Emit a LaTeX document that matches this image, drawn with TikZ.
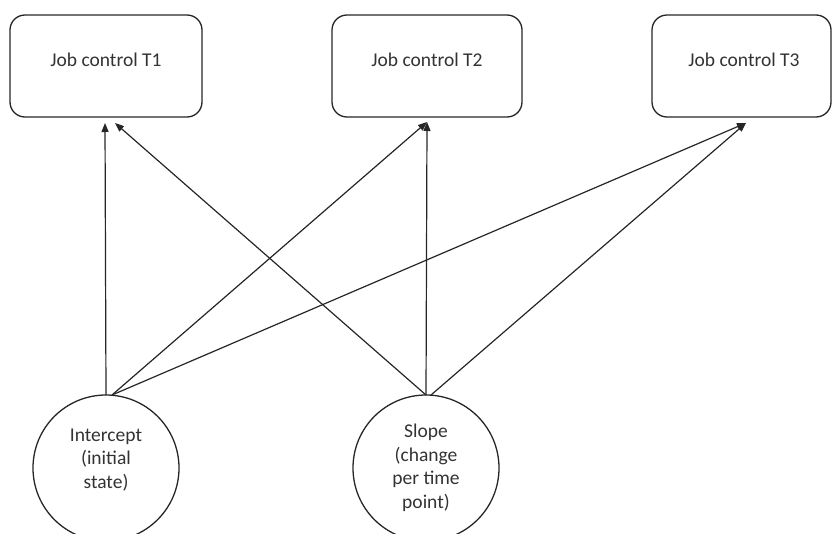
\documentclass[tikz,border=0pt]{standalone}
\usepackage{fontspec}
\setmainfont{Carlito}
\usetikzlibrary{arrows.meta}
\begin{document}
\begin{tikzpicture}[x=1pt,y=-1pt,
  jbox/.style={draw=black!85,line width=1.3pt,rounded corners=15pt,minimum height=102pt,inner sep=0pt},
  latent/.style={draw=black!85,line width=1.3pt,circle,minimum size=146pt,inner sep=0pt},
  lbl/.style={font=\fontsize{19.5}{23.5}\selectfont,text=black!80,align=center},
  conn/.style={draw=black!85,line width=1.2pt,-{Triangle[length=9pt,width=7pt]}}
]
\useasboundingbox (0,0) rectangle (832,533);
\node[jbox,minimum width=192pt] (t1) at (106,66) {};
\node[lbl] (t1l) at (106,60) {Job control T1};
\node[jbox,minimum width=190pt] (t2) at (427,66) {};
\node[lbl] (t2l) at (427,60) {Job control T2};
\node[jbox,minimum width=179pt] (t3) at (741.5,66) {};
\node[lbl] (t3l) at (744,60) {Job control T3};
\node[latent] (i) at (106,468) {};
\node[lbl] (il) at (106,460) {Intercept\\(initial\\state)};
\node[latent] (s) at (426,468) {};
\node[lbl] (sl) at (426,468) {Slope\\(change\\per time\\point)};
\coordinate (e1a) at (105,123);
\coordinate (e1b) at (115,123);
\coordinate (e2) at (427,122);
\coordinate (e3) at (746,123);
\coordinate (ia) at (106,395);
\coordinate (ib) at (112,395);
\coordinate (sa) at (426,395);
\coordinate (sb) at (431,395);
\draw[conn] (ia) -- (e1a);
\draw[conn] (ib) -- (e2);
\draw[conn] (ib) -- (e3);
\draw[conn] (sa) -- (e1b);
\draw[conn] (sa) -- (e2);
\draw[conn] (sb) -- (e3);
\end{tikzpicture}
\end{document}
